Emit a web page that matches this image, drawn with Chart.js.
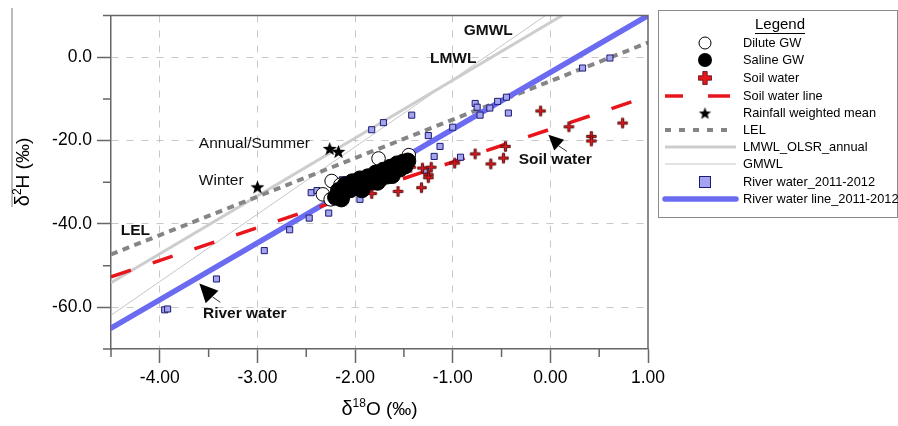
<!DOCTYPE html>
<html><head><meta charset="utf-8">
<script src="https://cdn.jsdelivr.net/npm/chart.js@4.4.1/dist/chart.umd.min.js"></script>
<style>html,body{margin:0;padding:0;background:#fff}canvas{display:block}</style>
</head><body>
<canvas id="c" width="898" height="426"></canvas>
<script>
const FONT = "'Liberation Sans', Arial, Helvetica, sans-serif";

// ---- axis ticks ----
const xTickValues = [-4, -3, -2, -1, 0, 1];
const yTickValues = [-60, -40, -20, 0];
const xMinorTicks = [-4.5, -3.5, -2.5, -1.5, -0.5, 0.5];
const yMinorTicks = [10, -10, -30, -50, -70];

// ---- series: Dilute GW ----
const diluteX = [-1.76, -1.45, -2.24, -2.15, -2.33, -2.25];
const diluteY = [-24.3, -23.5, -29.7, -30.6, -32.9, -34.1];

// ---- series: Saline GW ----
const salineX = [-2.20, -2.17, -2.12, -2.10, -2.05, -2.03, -1.98, -1.95, -1.91, -1.87, -1.83, -1.79, -1.74, -1.71, -1.67, -1.64, -1.60, -1.57, -1.54, -1.51, -1.49, -1.46, -2.14, -1.93, -1.77, -1.62];
const salineY = [-33.6, -32.0, -32.7, -30.6, -31.8, -29.9, -31.1, -29.2, -30.6, -28.7, -29.9, -27.8, -29.2, -27.1, -28.5, -26.4, -27.5, -25.6, -26.8, -25.2, -26.1, -24.9, -34.0, -31.8, -30.0, -28.4];

// ---- series: Soil water ----
const soilX = [-1.83, -1.56, -1.32, -1.43, -1.31, -1.22, -1.25, -1.25, -0.98, -0.77, -0.61, -0.48, -0.46, -0.10, 0.19, 0.42, 0.42, 0.74];
const soilY = [-32.7, -32.2, -31.3, -26.4, -26.6, -26.4, -28.2, -28.9, -25.4, -23.2, -25.6, -24.2, -21.4, -12.9, -16.7, -19.0, -20.1, -15.8];

// ---- series: Rainfall weighted mean ----
const rainX = [-2.26, -2.17, -3.00];
const rainY = [-21.9, -22.6, -31.1];

// ---- series: River water 2011-2012 ----
const riverX = [-3.95, -3.92, -3.42, -2.93, -2.67, -2.47, -2.27, -2.45, -2.39, -2.13, -1.95, -1.83, -1.71, -1.42, -1.25, -1.13, -1.19, -1.28, -0.92, -1.00, -0.77, -0.75, -0.72, -0.62, -0.54, -0.45, -0.43, 0.33, 0.61];
const riverY = [-60.6, -60.4, -53.2, -46.4, -41.4, -38.6, -37.4, -32.5, -32.0, -29.4, -34.1, -17.4, -15.7, -13.9, -18.8, -21.4, -23.8, -27.1, -24.0, -16.8, -11.1, -12.0, -13.9, -12.2, -10.6, -9.6, -13.4, -2.6, -0.2];

// ---- regression / reference lines (end points) ----
const soilLineX = [-4.5, 1.0];   const soilLineY = [-52.7, -9.4];
const riverLineX = [-4.5, 1.0];  const riverLineY = [-65.0, 10.0];
const lelX = [-4.5, 1.0];        const lelY = [-47.3, 3.5];
const lmwlX = [-4.5, 0.12];      const lmwlY = [-54.1, 10.0];
const gmwlX = [-4.5, -0.05];     const gmwlY = [-61.9, 10.0];

const legendLabels = ['Dilute GW', 'Saline GW', 'Soil water', 'Soil water line', 'Rainfall weighted mean', 'LEL', 'LMWL_OLSR_annual', 'GMWL', 'River water_2011-2012', 'River water line_2011-2012'];

// annotation texts
const annotations = [
  {t: 'GMWL', x: -0.636, y: 6.3, bold: true, align: 'center'},
  {t: 'LMWL', x: -0.995, y: -0.3, bold: true, align: 'center'},
  {t: 'Annual/Summer', x: -3.60, y: -20.7, bold: false, align: 'left'},
  {t: 'Winter', x: -3.60, y: -29.6, bold: false, align: 'left'},
  {t: 'LEL', x: -4.25, y: -41.6, bold: true, align: 'center'},
  {t: 'River water', x: -3.13, y: -61.6, bold: true, align: 'center'},
  {t: 'Soil water', x: 0.05, y: -24.7, bold: true, align: 'center'}
];
// arrows: tip, two base corners, tail end (data coords)
const arrows = [
  {tip: [-3.595, -54.3], c1: [-3.40, -56.0], c2: [-3.53, -59.0], tailFrom: [-3.46, -57.5], tailTo: [-3.38, -58.8]},
  {tip: [-0.02, -18.6], c1: [0.14, -19.8], c2: [0.04, -22.4], tailFrom: [0.08, -21.2], tailTo: [0.17, -22.6]}
];

const toPts = (xs, ys) => xs.map((x, i) => ({x: x, y: ys[i]}));

function makeStar(r, color) {
  const s = Math.ceil(r * 2 + 2);
  const c = document.createElement('canvas'); c.width = s; c.height = s;
  const g = c.getContext('2d');
  g.translate(s / 2, s / 2 + r * 0.1);
  g.beginPath();
  for (let i = 0; i < 10; i++) {
    const rad = i % 2 ? r * 0.42 : r;
    const a = -Math.PI / 2 + i * Math.PI / 5;
    g.lineTo(rad * Math.cos(a), rad * Math.sin(a));
  }
  g.closePath(); g.fillStyle = color; g.fill();
  return c;
}
function crossPath(g, h, w) {
  g.beginPath();
  const p = [[-w,-h],[w,-h],[w,-w],[h,-w],[h,w],[w,w],[w,h],[-w,h],[-w,w],[-h,w],[-h,-w],[-w,-w]];
  p.forEach((q, i) => i ? g.lineTo(q[0], q[1]) : g.moveTo(q[0], q[1]));
  g.closePath();
}
function makeCross(size, arm) {
  const s = Math.ceil(size + 3);
  const c = document.createElement('canvas'); c.width = s; c.height = s;
  const g = c.getContext('2d');
  g.translate(s / 2, s / 2);
  crossPath(g, size / 2, arm / 2);
  g.fillStyle = '#e3171c'; g.fill();
  g.lineWidth = 0.9; g.strokeStyle = '#4a0808'; g.stroke();
  return c;
}
const starImg = makeStar(7.3, '#000');
const crossImg = makeCross(9.5, 2.3);

const COLORS = {
  river: '#6b6bf2', riverFill: '#a4a4f0', riverEdge: '#1c1c70',
  soil: '#e8161c', lel: '#858585', lmwl: '#cdcdcd', gmwl: '#c6c6c6', axis: '#666', grid: '#c8c8c8'
};

function lineDs(label, xs, ys, color, width, dash, order, cap) {
  return {label: label, data: toPts(xs, ys), showLine: true, pointRadius: 0, borderColor: color,
    backgroundColor: color, borderWidth: width, borderDash: dash, borderCapStyle: cap || 'butt', order: order, tension: 0};
}

const overlay = {
  id: 'overlay',
  afterDraw(chart) {
    const ctx = chart.ctx, xs = chart.scales.x, ys = chart.scales.y, a = chart.chartArea;
    const X = v => xs.getPixelForValue(v), Y = v => ys.getPixelForValue(v);
    ctx.save();
    // frame (top & right)
    ctx.strokeStyle = COLORS.axis; ctx.lineWidth = 1.5;
    ctx.beginPath(); ctx.moveTo(a.left, a.top); ctx.lineTo(a.right, a.top); ctx.lineTo(a.right, a.bottom); ctx.stroke();
    // minor ticks
    ctx.beginPath();
    yMinorTicks.forEach(v => { const y = Y(v); ctx.moveTo(a.left - 8, y); ctx.lineTo(a.left, y); });
    xMinorTicks.forEach(v => { const x = X(v); ctx.moveTo(x, a.bottom); ctx.lineTo(x, a.bottom + 8); });
    ctx.stroke();
    // odd left rule
    ctx.lineWidth = 1; ctx.strokeStyle = '#777';
    ctx.beginPath(); ctx.moveTo(12, 8); ctx.lineTo(12, 207); ctx.stroke();

    // axis titles with superscripts
    function supText(parts, cx, cy) {
      let w = 0;
      parts.forEach(p => { ctx.font = p.f + 'px ' + FONT; p.w = ctx.measureText(p.t).width; w += p.w; });
      let x = cx - w / 2;
      ctx.textBaseline = 'alphabetic'; ctx.textAlign = 'left'; ctx.fillStyle = '#000';
      parts.forEach(p => { ctx.font = p.f + 'px ' + FONT; ctx.fillText(p.t, x, cy + (p.dy || 0)); x += p.w; });
    }
    supText([{t: 'δ', f: 20}, {t: '18', f: 12, dy: -8}, {t: 'O (‰)', f: 19}], (a.left + a.right) / 2, 415);
    ctx.save(); ctx.translate(29, 172); ctx.rotate(-Math.PI / 2);
    supText([{t: 'δ', f: 20}, {t: '2', f: 12, dy: -8}, {t: 'H (‰)', f: 19}], 0, 0);
    ctx.restore();

    // annotations
    ctx.fillStyle = '#111'; ctx.textBaseline = 'middle';
    annotations.forEach(n => {
      ctx.font = (n.bold ? 'bold ' : '') + '15.5px ' + FONT;
      ctx.textAlign = n.align;
      ctx.fillText(n.t, X(n.x), Y(n.y));
    });
    arrows.forEach(r => {
      ctx.fillStyle = '#000';
      ctx.beginPath(); ctx.moveTo(X(r.tip[0]), Y(r.tip[1])); ctx.lineTo(X(r.c1[0]), Y(r.c1[1])); ctx.lineTo(X(r.c2[0]), Y(r.c2[1])); ctx.closePath(); ctx.fill();
      ctx.strokeStyle = '#333'; ctx.lineWidth = 1;
      ctx.beginPath(); ctx.moveTo(X(r.tailFrom[0]), Y(r.tailFrom[1])); ctx.lineTo(X(r.tailTo[0]), Y(r.tailTo[1])); ctx.stroke();
    });

    // legend
    const L = 658.5, T = 10.5, R = 897.5, B = 217.5;
    ctx.fillStyle = '#fff'; ctx.fillRect(L, T, R - L, B - T);
    ctx.strokeStyle = '#8a8a8a'; ctx.lineWidth = 1; ctx.strokeRect(L, T, R - L, B - T);
    ctx.fillStyle = '#000'; ctx.font = '15px ' + FONT; ctx.textAlign = 'center'; ctx.textBaseline = 'middle';
    ctx.fillText('Legend', 780, 25);
    const tw = ctx.measureText('Legend').width;
    ctx.lineWidth = 1; ctx.strokeStyle = '#000';
    ctx.beginPath(); ctx.moveTo(780 - tw / 2, 33.5); ctx.lineTo(780 + tw / 2, 33.5); ctx.stroke();
    const rows = [43, 60, 78, 96, 113, 130, 147, 164, 182, 199];
    const sx = 705;
    ctx.font = '12.8px ' + FONT; ctx.textAlign = 'left';
    legendLabels.forEach((lab, i) => { ctx.fillStyle = '#000'; ctx.fillText(lab, 743, rows[i]); });
    // symbols
    ctx.lineWidth = 1; ctx.strokeStyle = '#000'; ctx.fillStyle = '#fff';
    ctx.beginPath(); ctx.arc(sx, rows[0], 6, 0, Math.PI * 2); ctx.fill(); ctx.stroke();
    ctx.fillStyle = '#000'; ctx.beginPath(); ctx.arc(sx, rows[1], 7, 0, Math.PI * 2); ctx.fill();
    ctx.save(); ctx.translate(sx, rows[2]); crossPath(ctx, 6.5, 2.2); ctx.fillStyle = '#e3171c'; ctx.fill(); ctx.lineWidth = 0.8; ctx.strokeStyle = '#5a0a0a'; ctx.stroke(); ctx.restore();
    ctx.strokeStyle = COLORS.soil; ctx.lineWidth = 3.5;
    ctx.beginPath(); ctx.moveTo(665, rows[3]); ctx.lineTo(683, rows[3]); ctx.moveTo(708, rows[3]); ctx.lineTo(730, rows[3]); ctx.stroke();
    const legStar = makeStar(6.5, '#000'); ctx.drawImage(legStar, sx - legStar.width / 2, rows[4] - legStar.height / 2);
    ctx.strokeStyle = COLORS.lel; ctx.lineWidth = 4; ctx.setLineDash([6, 8]);
    ctx.beginPath(); ctx.moveTo(665, rows[5]); ctx.lineTo(735, rows[5]); ctx.stroke(); ctx.setLineDash([]);
    ctx.strokeStyle = COLORS.lmwl; ctx.lineWidth = 3;
    ctx.beginPath(); ctx.moveTo(665, rows[6]); ctx.lineTo(736, rows[6]); ctx.stroke();
    ctx.strokeStyle = COLORS.gmwl; ctx.lineWidth = 1;
    ctx.beginPath(); ctx.moveTo(665, rows[7]); ctx.lineTo(736, rows[7]); ctx.stroke();
    ctx.fillStyle = COLORS.riverFill; ctx.strokeStyle = COLORS.riverEdge; ctx.lineWidth = 1;
    ctx.fillRect(sx - 5.5, rows[8] - 5.5, 11, 11); ctx.strokeRect(sx - 5.5, rows[8] - 5.5, 11, 11);
    ctx.strokeStyle = COLORS.river; ctx.lineWidth = 5.5; ctx.lineCap = 'round';
    ctx.beginPath(); ctx.moveTo(665, rows[9]); ctx.lineTo(736, rows[9]); ctx.stroke();
    ctx.restore();
  }
};

new Chart(document.getElementById('c'), {
  type: 'scatter',
  data: {
    datasets: [
      {label: 'Rainfall weighted mean', data: toPts(rainX, rainY), pointStyle: starImg, pointRadius: 7, order: 0},
      {label: 'Saline GW', data: toPts(salineX, salineY), pointStyle: 'circle', pointRadius: 8, backgroundColor: '#000', borderColor: '#000', borderWidth: 1, order: 1},
      {label: 'Dilute GW', data: toPts(diluteX, diluteY), pointStyle: 'circle', pointRadius: 6.8, backgroundColor: '#fff', borderColor: '#000', borderWidth: 1, order: 2},
      {label: 'Soil water', data: toPts(soilX, soilY), pointStyle: crossImg, pointRadius: 6, order: 3},
      {label: 'River water_2011-2012', data: toPts(riverX, riverY), pointStyle: 'rect', pointRadius: 4.3, backgroundColor: COLORS.riverFill, borderColor: COLORS.riverEdge, borderWidth: 1, order: 4},
      lineDs('Soil water line', soilLineX, soilLineY, COLORS.soil, 3.5, [21, 23], 5),
      lineDs('River water line_2011-2012', riverLineX, riverLineY, COLORS.river, 5.5, [], 6, 'round'),
      lineDs('LEL', lelX, lelY, COLORS.lel, 4, [7, 5.5], 7),
      lineDs('LMWL_OLSR_annual', lmwlX, lmwlY, COLORS.lmwl, 3, [], 8),
      lineDs('GMWL', gmwlX, gmwlY, COLORS.gmwl, 1, [], 9)
    ]
  },
  options: {
    responsive: false, animation: false, events: [],
    layout: {padding: {left: 0, right: 250, top: 10, bottom: 0}},
    plugins: {legend: {display: false}, tooltip: {enabled: false}},
    scales: {
      x: {
        type: 'linear', min: -4.5, max: 1.0,
        afterBuildTicks: s => { s.ticks = xTickValues.map(v => ({value: v})); },
        afterFit: s => { s.height = 77; },
        ticks: {callback: v => Number(v).toFixed(2), color: '#000', font: {family: FONT, size: 17.5}, padding: 5, maxRotation: 0, autoSkip: false},
        grid: {color: c => (c.tick && c.tick.value === 1) ? 'rgba(0,0,0,0)' : COLORS.grid, lineWidth: 1, tickLength: 14, tickColor: COLORS.axis, tickWidth: 1.5, tickBorderDash: []},
        border: {color: COLORS.axis, width: 1.5, dash: [7, 8]}
      },
      y: {
        type: 'linear', min: -70, max: 10,
        afterBuildTicks: s => { s.ticks = yTickValues.map(v => ({value: v})); },
        afterFit: s => { s.width = 111; },
        ticks: {callback: v => Number(v).toFixed(1), color: '#000', font: {family: FONT, size: 17.5}, padding: 5},
        grid: {color: COLORS.grid, lineWidth: 1, tickLength: 14, tickColor: COLORS.axis, tickWidth: 1.5, tickBorderDash: []},
        border: {color: COLORS.axis, width: 1.5, dash: [7, 8]}
      }
    }
  },
  plugins: [overlay]
});
</script>
</body></html>
